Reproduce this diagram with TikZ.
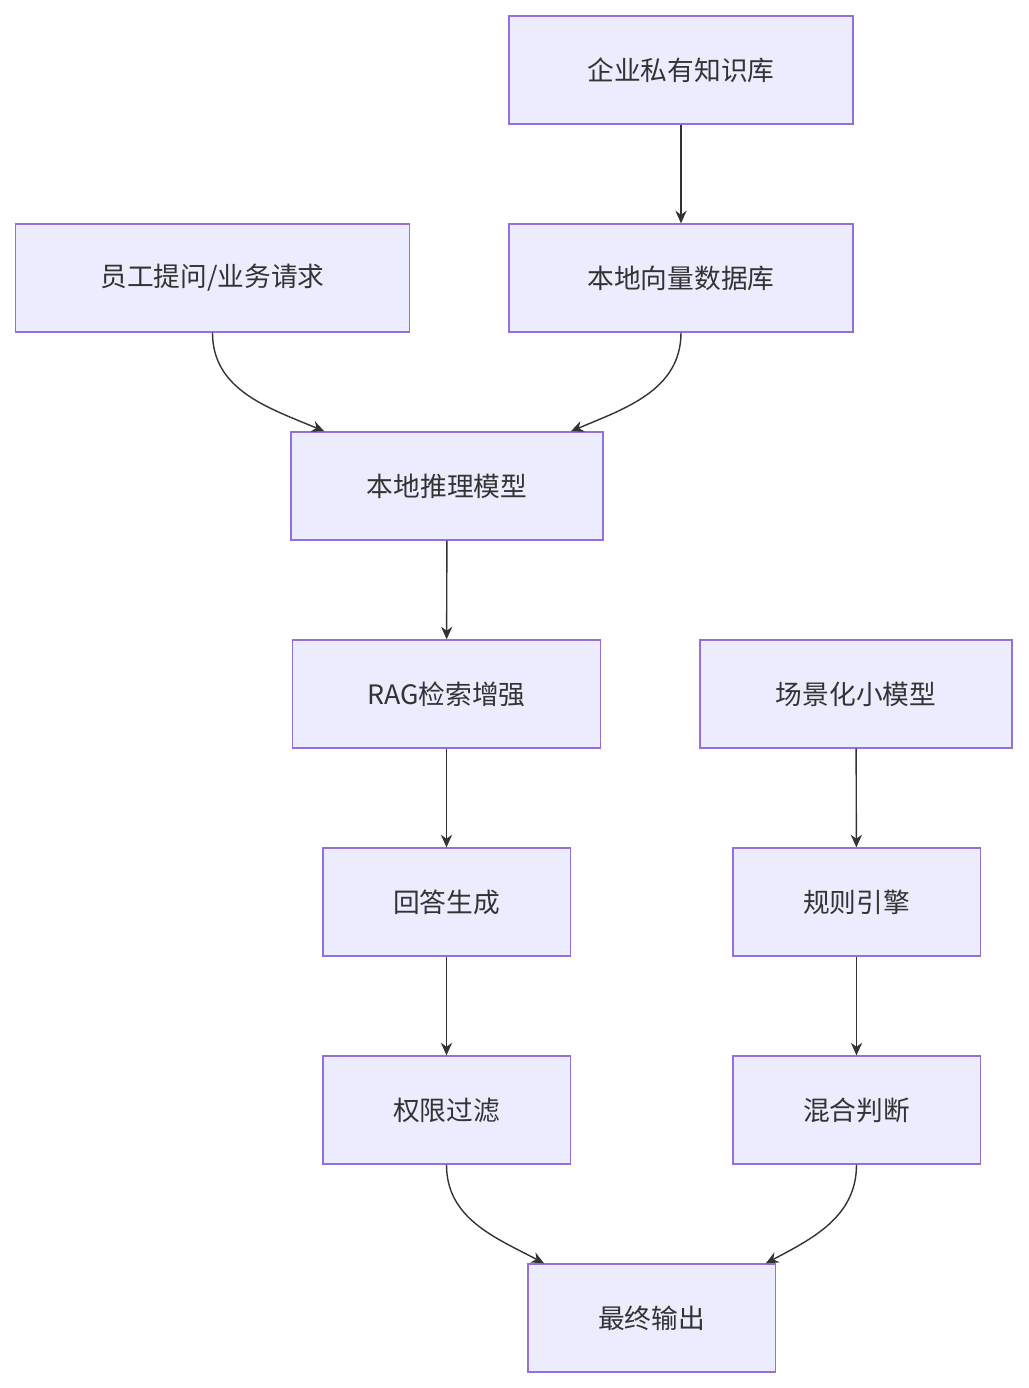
\documentclass[tikz,border=0pt]{standalone}
\usepackage{fontspec}
\setmainfont{Noto Sans CJK SC}
\usetikzlibrary{positioning,arrows.meta}
\definecolor{boxfill}{HTML}{ECECFF}
\definecolor{boxline}{HTML}{9370DB}
\definecolor{arrcol}{HTML}{333333}
\begin{document}
\begin{tikzpicture}[x=0.025cm,y=-0.025cm]
\tikzstyle{blk}=[draw=boxline, fill=boxfill, line width=0.9pt, minimum height=2.7cm, inner sep=0pt, font=\fontsize{19pt}{22pt}\selectfont, text=arrcol]
\tikzstyle{arr}=[draw=arrcol, line width=1pt, -{Stealth[length=9pt,width=8pt]}]
\useasboundingbox (0,0) rectangle (1028,1388);

\node[blk, minimum width=8.6cm] (kb) at (681,70) {企业私有知识库};
\node[blk, minimum width=8.6cm] (vdb) at (681,278) {本地向量数据库};
\node[blk, minimum width=9.83cm] (ask) at (212.5,278) {员工提问/业务请求};
\node[blk, minimum width=7.8cm] (llm) at (447,486) {本地推理模型};
\node[blk, minimum width=7.68cm] (rag) at (446.5,694) {RAG检索增强};
\node[blk, minimum width=7.8cm] (small) at (856,694) {场景化小模型};
\node[blk, minimum width=6.18cm] (gen) at (446.5,902) {回答生成};
\node[blk, minimum width=6.18cm] (rule) at (856.5,902) {规则引擎};
\node[blk, minimum width=6.18cm] (perm) at (446.5,1110) {权限过滤};
\node[blk, minimum width=6.18cm] (mix) at (856.5,1110) {混合判断};
\node[blk, minimum width=6.18cm] (out) at (651.5,1318) {最终输出};

\foreach \i/\j in {kb/vdb, llm/rag, rag/gen, gen/perm, small/rule, rule/mix}{\draw[arr] (\i) -- (\j);}
\draw[arr] (ask.south) to[out=-90,in=157] ([xshift=0.85cm]llm.north west);
\draw[arr] (vdb.south) to[out=-90,in=23] ([xshift=-0.82cm]llm.north east);
\draw[arr] (perm.south) to[out=-90,in=152] ([xshift=0.42cm]out.north west);
\draw[arr] (mix.south) to[out=-90,in=28] ([xshift=-0.25cm]out.north east);
\end{tikzpicture}
\end{document}
